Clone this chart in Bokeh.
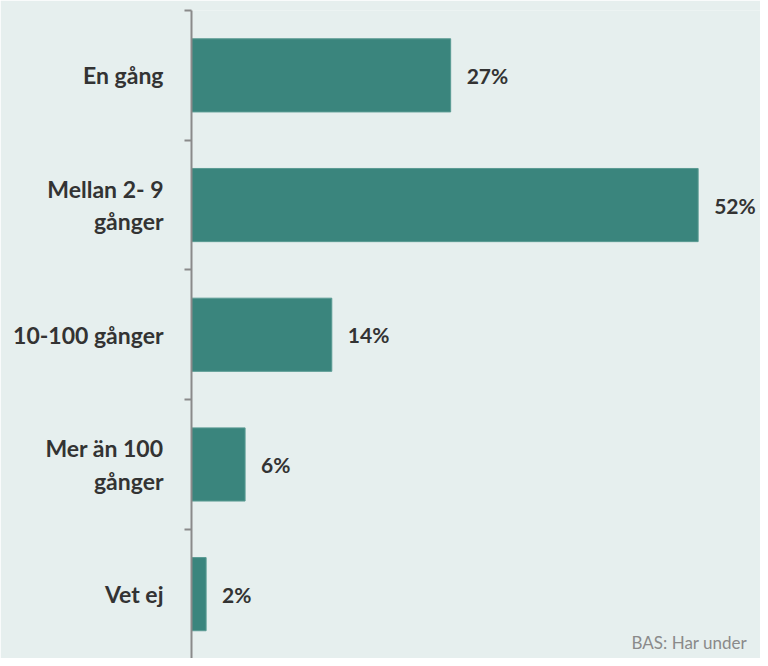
from bokeh.plotting import figure
from bokeh.models import Range1d, FixedTicker, ColumnDataSource, Label
from bokeh.embed import file_html
from bokeh.resources import INLINE
from bokeh.core.properties import value

categories = ["En gång", "Mellan 2- 9\ngånger", "10-100 gånger", "Mer än 100\ngånger", "Vet ej"]
values = [26.6, 52.0, 14.4, 5.5, 1.5]
value_labels = ["27%", "52%", "14%", "6%", "2%"]
positions = [5, 4, 3, 2, 1]
boundaries = [0.5, 1.5, 2.5, 3.5, 4.5, 5.5]
footnote = "BAS: Har under"

BG = "#e6efee"
BAR = "#3a857d"
TXT = "#333333"
AX = "#8a8a8a"
FONT = "Lato"

src = ColumnDataSource(dict(val=values, lab=value_labels, y=positions))

p = figure(width=760, height=658, output_backend="svg", toolbar_location=None,
           x_range=Range1d(0, 58.4), y_range=Range1d(0.504, 5.5),
           min_border_left=191, min_border_right=0, min_border_top=10, min_border_bottom=0)
p.background_fill_color = BG
p.border_fill_color = BG
p.outline_line_color = None
p.xgrid.visible = False
p.ygrid.visible = False
p.xaxis.visible = False

ya = p.yaxis[0]
ya.ticker = FixedTicker(ticks=positions, minor_ticks=boundaries)
ya.major_label_overrides = {pos: cat for pos, cat in zip(positions, categories)}
ya.major_label_text_font = FONT
ya.major_label_text_font_style = "bold"
ya.major_label_text_font_size = "23px"
ya.major_label_text_color = TXT
ya.major_label_text_line_height = 1.15
ya.major_label_standoff = 21
ya.axis_line_color = AX
ya.axis_line_width = 2
ya.major_tick_line_color = None
ya.major_tick_out = 0
ya.major_tick_in = 0
ya.minor_tick_line_color = AX
ya.minor_tick_line_width = 2
ya.minor_tick_out = 7
ya.minor_tick_in = 0

p.hbar(y="y", right="val", left=0, height=0.564, source=src,
       fill_color=BAR, line_color="#5a9b93", line_width=1)

p.text(x="val", y="y", text="lab", source=src, x_offset=16,
       text_align="left", text_baseline="middle",
       text_font=value(FONT), text_font_style="bold", text_font_size="21px",
       text_color=TXT)

p.add_layout(Label(x=440, y=16, x_units="screen", y_units="screen", text=footnote,
                   text_font=FONT, text_font_size="17px", text_color="#8a8a8a",
                   text_baseline="alphabetic"))

open("out.html", "w").write(file_html(p, INLINE))
